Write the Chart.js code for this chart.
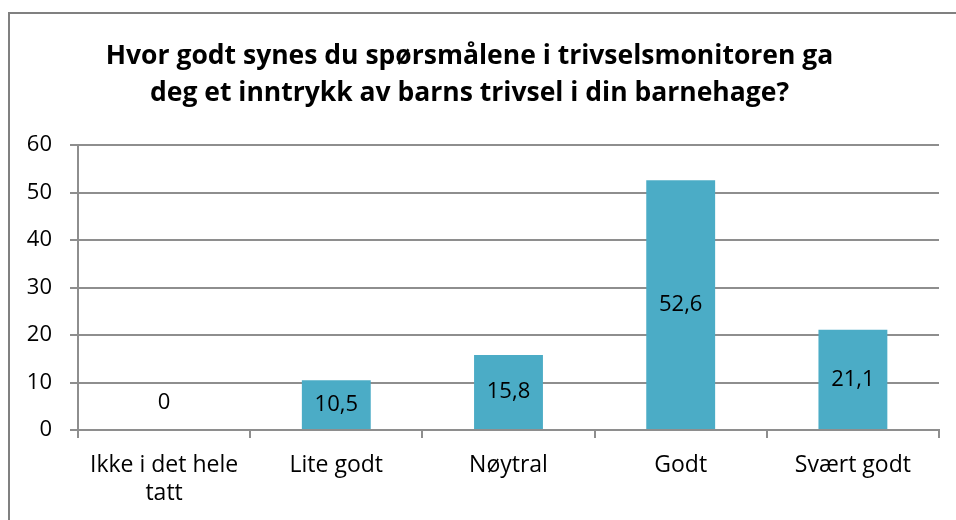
<!DOCTYPE html>
<html>
<head>
<meta charset="utf-8">
<script src="https://cdn.jsdelivr.net/npm/chart.js@4.4.1/dist/chart.umd.min.js"></script>
<style>
  html, body { margin: 0; padding: 0; background: #ffffff; }
  #wrap { position: relative; width: 956px; height: 520px; }
  canvas { display: block; }
</style>
</head>
<body>
<div id="wrap"><canvas id="c" width="956" height="520"></canvas></div>
<script>
const titleLines = ["Hvor godt synes du spørsmålene i trivselsmonitoren ga", "deg et inntrykk av barns trivsel i din barnehage?"];
const categories = [["Ikke i det hele", "tatt"], "Lite godt", "Nøytral", "Godt", "Svært godt"];
const values = [0, 10.5, 15.8, 52.6, 21.1];
const yTicks = [0, 10, 20, 30, 40, 50, 60];

const FONT = "'Open Sans', sans-serif";
const barColor = "#4BACC6";
const gridColor = "#8e8e8e";

const frame = {
  id: 'frame',
  beforeDraw(chart) {
    const ctx = chart.ctx;
    ctx.save();
    ctx.fillStyle = '#ffffff';
    ctx.fillRect(0, 0, chart.width, chart.height);
    ctx.strokeStyle = '#808080';
    ctx.lineWidth = 2;
    ctx.beginPath();
    ctx.moveTo(9, chart.height + 2);
    ctx.lineTo(9, 13);
    ctx.lineTo(chart.width + 2, 13);
    ctx.stroke();
    ctx.restore();
  }
};

const dataLabels = {
  id: 'dataLabels',
  afterDatasetsDraw(chart) {
    const ctx = chart.ctx;
    const meta = chart.getDatasetMeta(0);
    const ds = chart.data.datasets[0];
    ctx.save();
    ctx.font = "22px " + FONT;
    ctx.fillStyle = "#000000";
    ctx.textAlign = "center";
    ctx.textBaseline = "middle";
    meta.data.forEach((bar, i) => {
      const v = ds.data[i];
      const txt = String(v).replace('.', ',');
      let y = (bar.y + bar.base) / 2;
      if (v === 0) y = bar.base - 27;
      ctx.fillText(txt, bar.x, y);
    });
    ctx.restore();
  }
};

new Chart(document.getElementById('c'), {
  type: 'bar',
  data: {
    labels: categories,
    datasets: [{
      data: values,
      backgroundColor: barColor,
      borderWidth: 0,
      barPercentage: 0.4,
      categoryPercentage: 1.0
    }]
  },
  options: {
    responsive: false,
    animation: false,
    devicePixelRatio: 1,
    layout: { padding: { left: 0, right: 17, top: 0, bottom: 0 } },
    plugins: {
      legend: { display: false },
      tooltip: { enabled: false },
      title: {
        display: true,
        text: titleLines,
        color: '#000000',
        font: { family: FONT, size: 26.5, weight: 'bold', lineHeight: '37px' },
        padding: { top: 37.5, bottom: 33.5 }
      }
    },
    scales: {
      x: {
        grid: {
          display: true,
          drawOnChartArea: false,
          drawTicks: true,
          tickLength: 8,
          color: gridColor,
          lineWidth: 2
        },
        border: { display: true, color: gridColor, width: 2 },
        ticks: {
          color: '#000000',
          font: { family: FONT, size: 23, lineHeight: 1.22 },
          padding: 13,
          maxRotation: 0,
          autoSkip: false
        },
        afterFit(scale) { scale.height = 90; }
      },
      y: {
        min: 0,
        max: 60,
        afterBuildTicks(scale) { scale.ticks = yTicks.map(v => ({ value: v })); },
        grid: {
          color: gridColor,
          lineWidth: 2,
          tickLength: 8
        },
        border: { display: true, color: gridColor, width: 2 },
        ticks: {
          color: '#000000',
          font: { family: FONT, size: 22 },
          padding: 18
        },
        afterFit(scale) { scale.width = 78; }
      }
    }
  },
  plugins: [frame, dataLabels]
});
</script>
</body>
</html>
